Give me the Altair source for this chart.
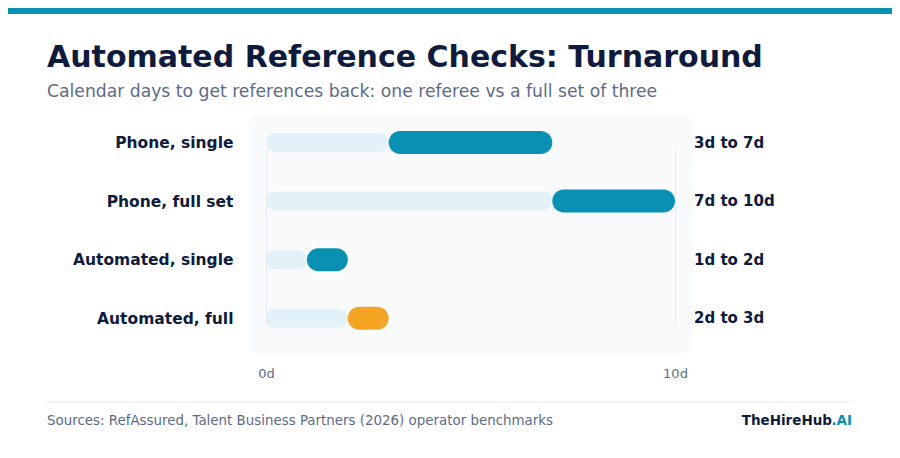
import altair as alt
import pandas as pd

# data
methods = ["Phone, single", "Phone, full set", "Automated, single", "Automated, full"]
low_days = [3, 7, 1, 2]
high_days = [7, 10, 2, 3]
highlight = [False, False, False, True]

title_text = "Automated Reference Checks: Turnaround"
subtitle_text = "Calendar days to get references back: one referee vs a full set of three"
source_text = "Sources: RefAssured, Talent Business Partners (2026) operator benchmarks"
brand_text = "TheHireHub"
brand_suffix = ".AI"

NAVY = "#0f1b3d"
TEAL = "#0891b2"
ORANGE = "#f5a524"
LIGHT = "#e3f2f8"
GRAY = "#5b6b86"
FONT = "DejaVu Sans"

df = pd.DataFrame({
    "method": methods,
    "low": low_days,
    "high": high_days,
    "hl": highlight,
})
df["zero"] = 0
df["range"] = [f"{a}d to {b}d" for a, b in zip(low_days, high_days)]

W, H = 444, 239

x_scale = alt.Scale(domain=[-0.44, 10.416], nice=False, zero=False)
y_enc = alt.Y(
    "method:N",
    sort=methods,
    scale=alt.Scale(type="point", range=[28.5, 204.3], padding=0),
    axis=alt.Axis(
        title=None, ticks=False, domain=False, grid=False,
        labelFontSize=15.5, labelFontWeight="bold", labelColor=NAVY,
        labelPadding=15, labelFont=FONT,
    ),
)

base = alt.Chart(df)

track = base.mark_bar(size=19, cornerRadius=9.5, color=LIGHT).encode(
    x=alt.X(
        "zero:Q",
        scale=x_scale,
        axis=alt.Axis(
            title=None, values=[0, 10], labelExpr="datum.value + 'd'",
            grid=True, gridColor="#e5e9f0", domain=False, ticks=False,
            labelFontSize=13, labelColor=GRAY, labelPadding=14, labelFont=FONT,
        ),
    ),
    x2="low:Q",
    y=y_enc,
)

bars = base.mark_bar(size=23, cornerRadius=11.5).encode(
    x=alt.X("low:Q", scale=x_scale),
    x2="high:Q",
    y=y_enc,
    color=alt.condition(alt.datum.hl, alt.value(ORANGE), alt.value(TEAL)),
)

range_labels = base.mark_text(
    align="left", baseline="middle", fontSize=15, fontWeight="bold",
    color=NAVY, font=FONT,
).encode(
    x=alt.value(W + 2),
    y=y_enc,
    text="range:N",
)


def text_layer(txt, x, y, **kw):
    return alt.Chart(pd.DataFrame({"t": [txt]})).mark_text(
        baseline="alphabetic", font=FONT, **kw
    ).encode(text="t:N", x=alt.value(x), y=alt.value(y))


title = text_layer(title_text, -201, -47, align="left", fontSize=30,
                   fontWeight="bold", color=NAVY)
subtitle = text_layer(subtitle_text, -201, -17.5, align="left", fontSize=17.2,
                      color=GRAY)
source = text_layer(source_text, -201, 311, align="left", fontSize=13.4,
                    color=GRAY)
brand = text_layer(brand_text, 584, 311, align="right", fontSize=13.5,
                   fontWeight="bold", color=NAVY)
suffix = text_layer(brand_suffix, 604, 311, align="right", fontSize=13.5,
                    fontWeight="bold", color=TEAL)

top_band = alt.Chart(pd.DataFrame({"a": [0]})).mark_rect(color=TEAL).encode(
    x=alt.value(-240), x2=alt.value(644), y=alt.value(-106), y2=alt.value(-100)
)
footer_rule = alt.Chart(pd.DataFrame({"a": [0]})).mark_rule(
    color="#e5e9f0", strokeWidth=1
).encode(x=alt.value(-201), x2=alt.value(604), y=alt.value(288))

chart = alt.layer(
    track, bars, range_labels, title, subtitle, source, brand, suffix,
    top_band, footer_rule,
).properties(
    width=W,
    height=H,
    padding={"left": 240, "top": 106, "right": 200, "bottom": 97},
    autosize=alt.AutoSizeParams(type="none"),
    background="white",
).configure(
    font=FONT,
).configure_view(
    fill="#f8fafc", stroke="transparent", cornerRadius=10,
)

chart.save("out.html", embed_options={"renderer": "svg", "actions": False})
